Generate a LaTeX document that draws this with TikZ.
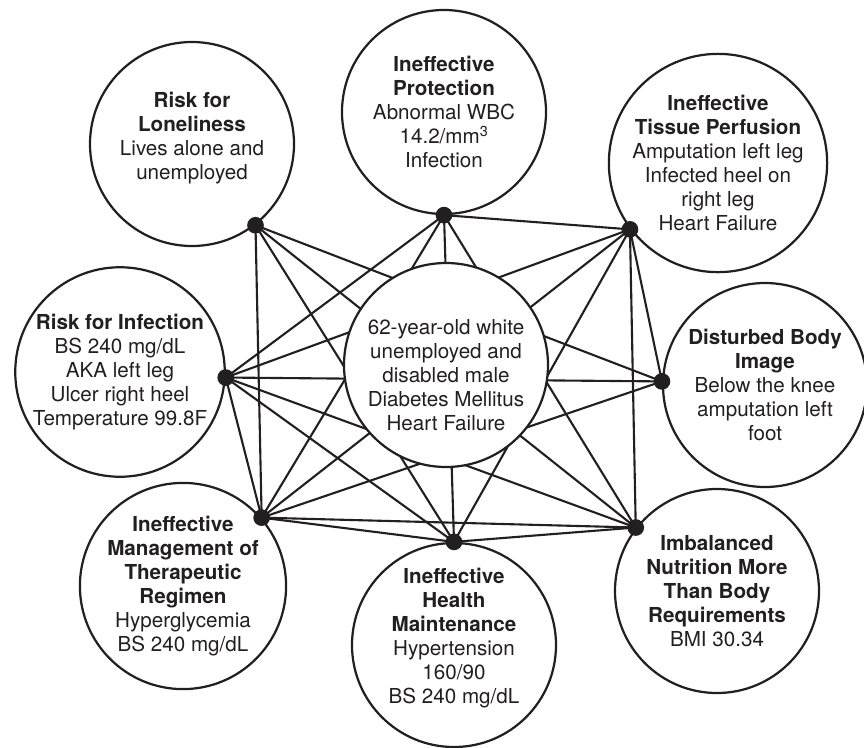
\documentclass[tikz,border=0pt]{standalone}
\usepackage{fontspec}
\setmainfont{TeX Gyre Heros}
\usetikzlibrary{positioning}
\definecolor{inkps}{RGB}{35,31,32}

\begin{document}
\begin{tikzpicture}[x=0.03cm, y=-0.03cm, font=\fontsize{17.6}{20.5}\selectfont,
    bubble/.style={circle, draw=inkps, line width=1.9pt, fill=white, minimum size=6.12cm,
                   inner sep=0pt, align=center, text=inkps},
    words/.style={text=inkps, align=center, inner sep=0pt},
    hub/.style={circle, fill=inkps, inner sep=0pt, minimum size=0.5cm},
    link/.style={inkps, line width=1.8pt}]
  \useasboundingbox (0,0) rectangle (864,747);
  \node[bubble, label={[words, yshift=0.18cm]center:{\textbf{Risk for}\\\textbf{Loneliness}\\Lives alone and\\unemployed}}] (lonely) at (192,144) {};
  \node[bubble] (protect) at (444,112) {\textbf{Ineffective}\\\textbf{Protection}\\Abnormal WBC\\14.2/mm\textsuperscript{3}\\Infection};
  \node[bubble] (tissue)  at (718,163) {\textbf{Ineffective}\\\textbf{Tissue Perfusion}\\Amputation left leg\\Infected heel on\\right leg\\Heart Failure};
  \node[bubble] (body)    at (765,385) {\textbf{Disturbed Body}\\\textbf{Image}\\Below the knee\\amputation left\\foot};
  \node[bubble] (nutri)   at (717,591) {\textbf{Imbalanced}\\\textbf{Nutrition More}\\\textbf{Than Body}\\\textbf{Requirements}\\BMI 30.34};
  \node[bubble, label={[words, yshift=0.21cm]center:{\textbf{Ineffective}\\\textbf{Health}\\\textbf{Maintenance}\\Hypertension\\160/90\\BS 240 mg/dL}}] (health) at (454,645) {};
  \node[bubble] (manage)  at (183,586) {\textbf{Ineffective}\\\textbf{Management of}\\\textbf{Therapeutic}\\\textbf{Regimen}\\Hyperglycemia\\BS 240 mg/dL};
  \node[bubble] (infect)  at (120,372) {\textbf{Risk for Infection}\\BS 240 mg/dL\\AKA left leg\\Ulcer right heel\\Temperature 99.8F};

  \coordinate (pl) at (lonely.-52);
  \coordinate (pp) at (protect.-90);
  \coordinate (pt) at (tissue.-143);
  \coordinate (pd) at (body.178);
  \coordinate (pn) at (nutri.142);
  \coordinate (ph) at (health.90);
  \coordinate (pm) at (manage.41);
  \coordinate (pi) at (infect.-3);

  \foreach \a/\b in {pl/pd, pl/pn, pl/ph, pl/pm,
                     pp/pt, pp/pi, pp/pm, pp/ph, pp/pn,
                     pt/pi, pt/pm, pt/ph, pt/pn, pt/pd,
                     pd/pi, pd/pm,
                     pn/pi, pn/pm, pn/ph,
                     ph/pi, ph/pm,
                     pm/pi}
    \draw[link] (\a) -- (\b);

  \node[bubble, label={[words, yshift=-0.3cm]center:{62-year-old white\\unemployed and\\disabled male\\Diabetes Mellitus\\Heart Failure}}] (patient) at (446,365) {};

  \foreach \p in {pl, pp, pt, pd, pn, ph, pm, pi}
    \node[hub] (hub-\p) at (\p) {};
\end{tikzpicture}
\end{document}
